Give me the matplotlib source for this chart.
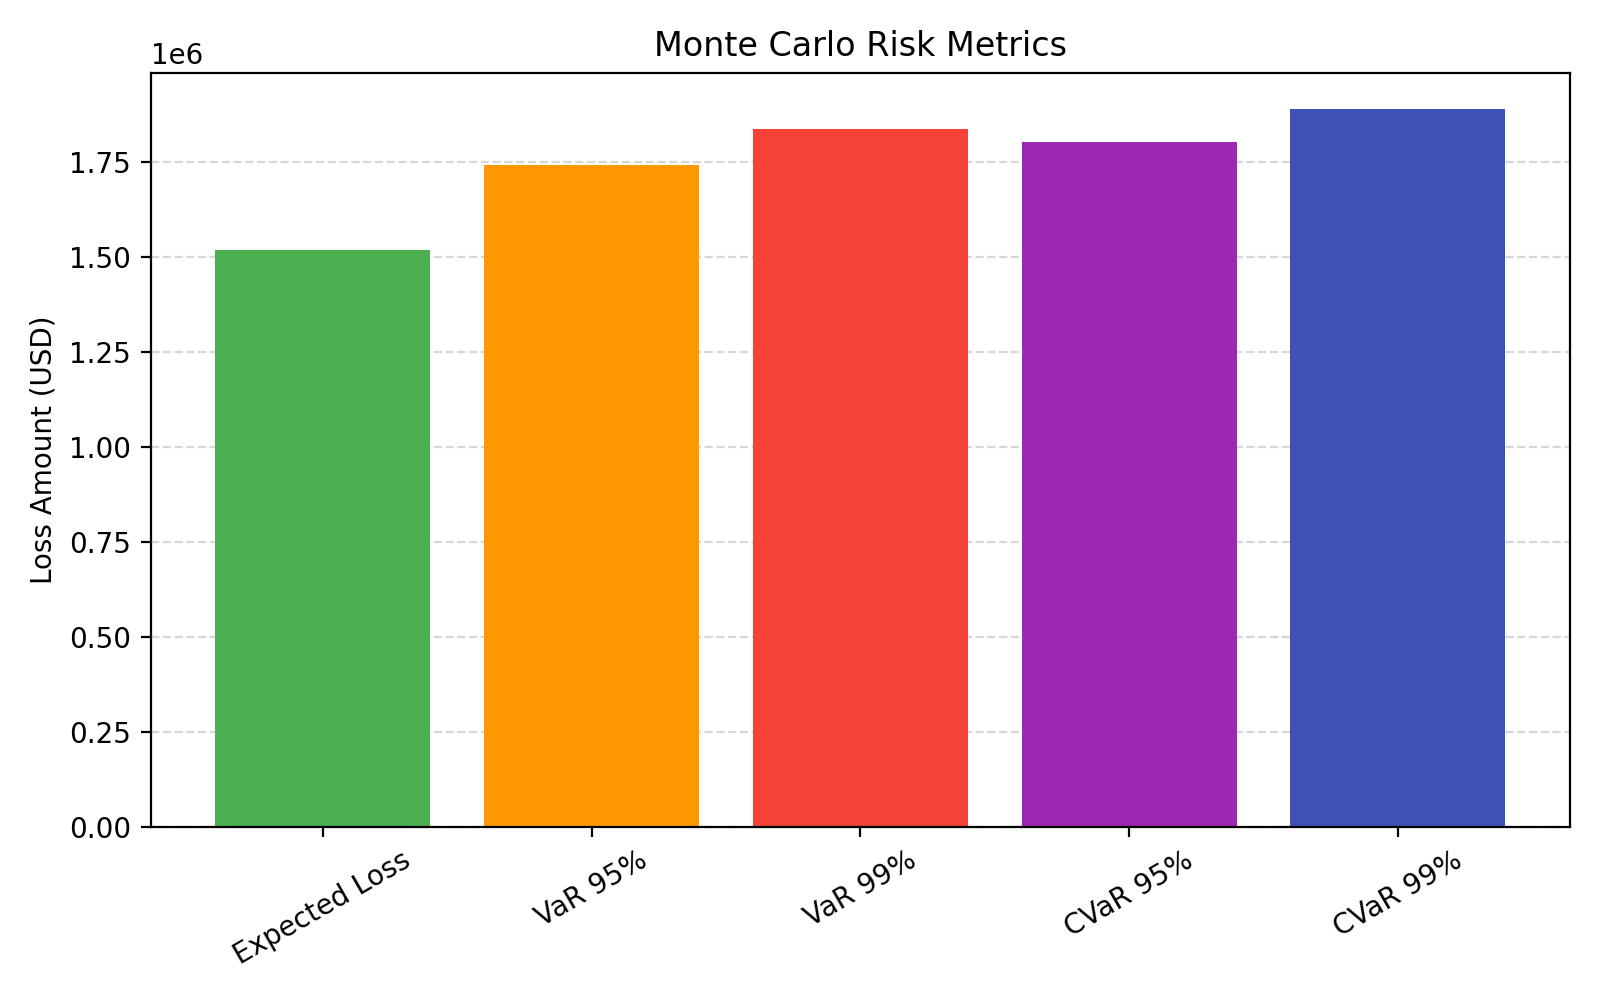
import matplotlib
matplotlib.use("Agg")
import matplotlib.pyplot as plt

metrics = ["Expected Loss", "VaR 95%", "VaR 99%", "CVaR 95%", "CVaR 99%"]
values = [1.517e6, 1.742e6, 1.836e6, 1.801e6, 1.890e6]
colors = ["#4CAF50", "#FF9800", "#F44336", "#9C27B0", "#3F51B5"]

fig, ax = plt.subplots(figsize=(8, 5), dpi=200)
ax.bar(metrics, values, color=colors)
ax.set_title("Monte Carlo Risk Metrics")
ax.set_ylabel("Loss Amount (USD)")
ax.grid(axis="y", linestyle="--", alpha=0.5)
ax.set_axisbelow(True)
plt.xticks(rotation=30)
plt.tight_layout()
plt.savefig("out.png")
